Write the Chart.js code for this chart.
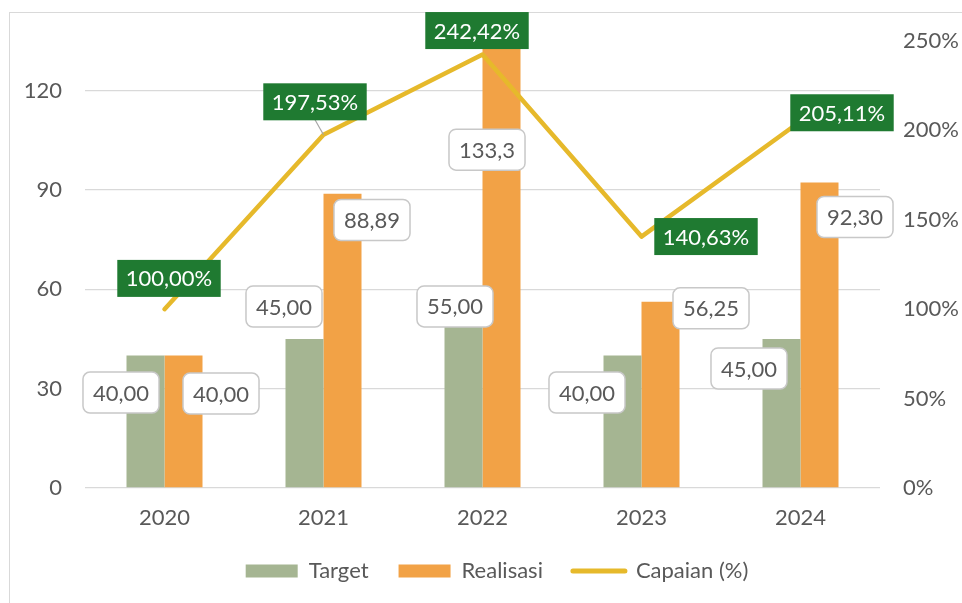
<!DOCTYPE html>
<html>
<head>
<meta charset="utf-8">
<script src="https://cdn.jsdelivr.net/npm/chart.js@4/dist/chart.umd.min.js"></script>
<style>
  html, body { margin: 0; padding: 0; background: #ffffff; }
  #chart { display: block; }
</style>
</head>
<body>
<canvas id="chart" width="962" height="603"></canvas>
<script>
// Years on the category axis
const years = ['2020', '2021', '2022', '2023', '2024'];
// Target and realisation values (left axis)
const target = [40.00, 45.00, 55.00, 40.00, 45.00];
const realisasi = [40.00, 88.89, 133.3, 56.25, 92.30];
// Achievement percentage (right axis)
const capaian = [100.00, 197.53, 242.42, 140.63, 205.11];
// Decimals shown in each realisation label
const realisasiDecimals = [2, 2, 1, 2, 2];

// Label placement (pixel offsets from each mark's anchor point)
const targetLabelOffset = [[-24.5, 37], [-20.5, -32.5], [-8.5, 0.5], [-35.5, 37], [-32.5, 29.5]];
const realisasiLabelOffset = [[37.5, 38], [29.5, 26.3], [-14.5, 103], [50.5, 6.6], [35.5, 34.6]];
const capaianLabelOffset = [[4.5, -30.8], [-8.5, -33], [-5.5, -24], [64.5, 0], [41.5, -8.5]];
const capaianLeader = [false, true, false, false, false];

const FONT = 'Lato, "Open Sans", sans-serif';
const GREY_TEXT = '#595959';
const GRID = '#d9d9d9';

const fmt = (v, d) => v.toFixed(d).replace('.', ',');

// Light frame around the chart
const framePlugin = {
  id: 'frame',
  beforeDraw(chart) {
    const ctx = chart.ctx;
    ctx.save();
    ctx.fillStyle = '#ffffff';
    ctx.fillRect(0, 0, chart.width, chart.height);
    ctx.strokeStyle = GRID;
    ctx.lineWidth = 1;
    ctx.strokeRect(9.5, 12.5, 1200, 1200);
    ctx.restore();
  }
};

// Place the legend row slightly right of centre and just below the axis labels
const legendShift = {
  id: 'legendShift',
  afterLayout(chart) {
    const lg = chart.legend;
    if (lg) {
      lg.left += 16;
      lg.right += 16;
      lg.top -= 18;
      lg.bottom -= 18;
    }
  }
};

function whiteLabel(ctx, cx, cy, text) {
  ctx.font = '22px ' + FONT;
  const w = ctx.measureText(text).width + 20;
  const h = 41;
  ctx.beginPath();
  ctx.roundRect(cx - w / 2, cy - h / 2, w, h, 7);
  ctx.fillStyle = '#ffffff';
  ctx.fill();
  ctx.lineWidth = 1.5;
  ctx.strokeStyle = '#c8c8c8';
  ctx.stroke();
  ctx.fillStyle = GREY_TEXT;
  ctx.textAlign = 'center';
  ctx.textBaseline = 'middle';
  ctx.fillText(text, cx, cy + 1);
}

function greenLabel(ctx, cx, cy, text) {
  ctx.font = '22px ' + FONT;
  const w = ctx.measureText(text).width + 17;
  const h = 37;
  ctx.fillStyle = '#1f7a31';
  ctx.fillRect(cx - w / 2, cy - h / 2, w, h);
  ctx.fillStyle = '#ffffff';
  ctx.textAlign = 'center';
  ctx.textBaseline = 'middle';
  ctx.fillText(text, cx, cy + 1);
}

// Data labels for bars and line
const labelPlugin = {
  id: 'valueLabels',
  afterDatasetsDraw(chart) {
    const ctx = chart.ctx;
    ctx.save();
    const tMeta = chart.getDatasetMeta(0);
    const rMeta = chart.getDatasetMeta(1);
    const cMeta = chart.getDatasetMeta(2);

    tMeta.data.forEach((el, i) => {
      const o = targetLabelOffset[i];
      whiteLabel(ctx, el.x + o[0], el.y + o[1], fmt(target[i], 2));
    });
    rMeta.data.forEach((el, i) => {
      const o = realisasiLabelOffset[i];
      whiteLabel(ctx, el.x + o[0], el.y + o[1], fmt(realisasi[i], realisasiDecimals[i]));
    });
    cMeta.data.forEach((el, i) => {
      const o = capaianLabelOffset[i];
      const cx = el.x + o[0], cy = el.y + o[1];
      if (capaianLeader[i]) {
        ctx.beginPath();
        ctx.moveTo(cx, cy + 18);
        ctx.lineTo(el.x, el.y);
        ctx.strokeStyle = '#a6a6a6';
        ctx.lineWidth = 1.2;
        ctx.stroke();
      }
      greenLabel(ctx, cx, cy, fmt(capaian[i], 2) + '%');
    });
    ctx.restore();
  }
};

new Chart(document.getElementById('chart'), {
  data: {
    labels: years,
    datasets: [
      {
        type: 'bar', label: 'Target', data: target, yAxisID: 'y',
        backgroundColor: '#a5b592', categoryPercentage: 0.478, barPercentage: 1, order: 2
      },
      {
        type: 'bar', label: 'Realisasi', data: realisasi, yAxisID: 'y',
        backgroundColor: '#f2a246', categoryPercentage: 0.478, barPercentage: 1, order: 2
      },
      {
        type: 'line', label: 'Capaian (%)', data: capaian, yAxisID: 'y1',
        borderColor: '#e6b92b', backgroundColor: '#e6b92b', borderWidth: 4.5,
        pointRadius: 0, tension: 0, borderCapStyle: 'round', borderJoinStyle: 'round', order: 1
      }
    ]
  },
  options: {
    responsive: false,
    animation: false,
    layout: { padding: { top: 41, bottom: -7, left: 0, right: 0 } },
    plugins: {
      tooltip: { enabled: false },
      legend: {
        position: 'bottom',
        labels: {
          usePointStyle: true,
          pointStyleWidth: 52,
          boxHeight: 13,
          padding: 30,
          color: GREY_TEXT,
          font: { family: FONT, size: 22 },
          sort: (a, b) => a.datasetIndex - b.datasetIndex,
          generateLabels(chart) {
            const items = Chart.defaults.plugins.legend.labels.generateLabels(chart);
            items.forEach(it => {
              const ds = chart.data.datasets[it.datasetIndex];
              if (ds.type === 'line') {
                it.pointStyle = 'line';
                it.lineWidth = 5;
                it.strokeStyle = ds.borderColor;
                it.lineCap = 'round';
              } else {
                it.pointStyle = 'rect';
                it.lineWidth = 0;
                it.fillStyle = ds.backgroundColor;
              }
            });
            return items;
          }
        }
      }
    },
    scales: {
      x: {
        grid: { display: false, drawTicks: false },
        border: { display: false },
        ticks: { color: GREY_TEXT, font: { family: FONT, size: 22 }, padding: 17 },
        afterFit(s) { s.height = 60; }
      },
      y: {
        position: 'left', min: 0, max: 135,
        ticks: { stepSize: 30, includeBounds: false, padding: 23, color: GREY_TEXT, font: { family: FONT, size: 22 } },
        grid: { color: GRID, lineWidth: 1.3, drawTicks: false },
        border: { display: false },
        afterFit(s) { s.width = 85; }
      },
      y1: {
        position: 'right', min: 0, max: 250,
        ticks: { stepSize: 50, padding: 23, color: GREY_TEXT, font: { family: FONT, size: 22 }, callback: v => v + '%' },
        grid: { display: false, drawTicks: false },
        border: { display: false },
        afterFit(s) { s.width = 82; }
      }
    }
  },
  plugins: [framePlugin, legendShift, labelPlugin]
});
</script>
</body>
</html>
